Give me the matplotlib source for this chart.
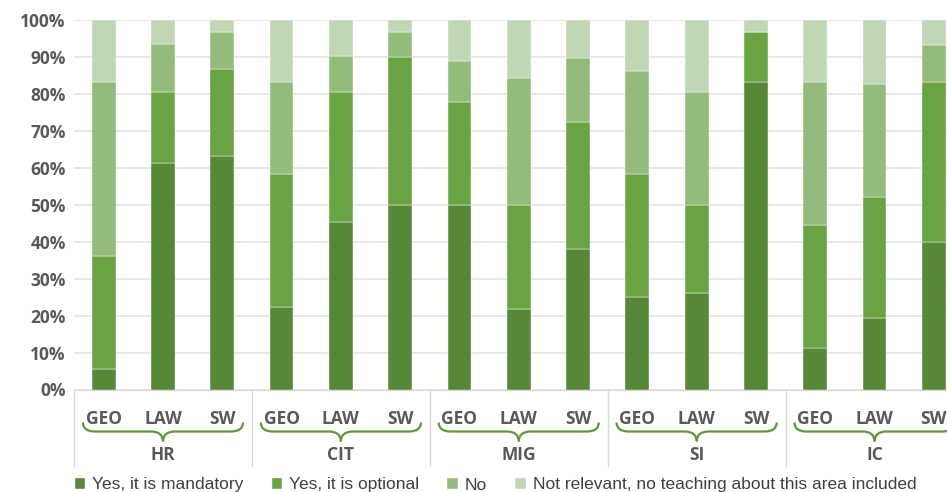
import numpy as np
import matplotlib
matplotlib.use('Agg')
import matplotlib.pyplot as plt
import matplotlib.transforms as mtransforms
from matplotlib.path import Path
from matplotlib.patches import PathPatch

# Datos
grupos = ['HR', 'CIT', 'MIG', 'SI', 'IC']
carreras = ['GEO', 'LAW', 'SW']
series = ['Yes, it is mandatory', 'Yes, it is optional', 'No',
          'Not relevant, no teaching about this area included']
obligatorio = [5.6, 61.3, 63.3, 22.2, 45.2, 50.0, 50.0, 21.9, 37.9, 25.0, 26.1, 83.3, 11.1, 19.4, 40.0]
opcional = [30.5, 19.3, 23.4, 36.1, 35.4, 40.0, 27.8, 28.1, 34.5, 33.3, 23.9, 13.4, 33.3, 32.8, 43.3]
no = [47.2, 12.9, 10.0, 25.0, 9.7, 6.7, 11.1, 34.4, 17.3, 27.8, 30.4, 0.0, 38.9, 30.5, 10.0]
no_relevante = [16.7, 6.5, 3.3, 16.7, 9.7, 3.3, 11.1, 15.6, 10.3, 13.9, 19.6, 3.3, 16.7, 17.3, 6.7]

colores = ['#578838', '#6aa343', '#94bb7b', '#c0d6b4']
gris = '#595959'
fuente = 'Open Sans'

fig = plt.figure(figsize=(9.47, 4.92), dpi=100)
W, H = 947, 492
ax = fig.add_axes([74 / W, (H - 389.5) / H, 889.5 / W, 369.5 / H])

x = np.arange(len(grupos) * len(carreras))
base = np.zeros(len(x))
for serie, vals, c in zip(series, [obligatorio, opcional, no, no_relevante], colores):
    ax.bar(x, vals, 0.40, bottom=base, color=c, label=serie, zorder=3,
           edgecolor='white', linewidth=0.3)
    base += np.array(vals)

ax.set_xlim(-0.5, len(x) - 0.5)
ax.set_ylim(0, 100)
ax.set_yticks(np.arange(0, 101, 10))
ax.set_yticklabels([f'{v}%' for v in range(0, 101, 10)], fontsize=12.5,
                   fontweight='bold', color=gris, family=fuente)
ax.tick_params(axis='y', length=0, pad=6)
ax.grid(axis='y', color='#e3e3e3', linewidth=1.2, zorder=0)
for s in ['top', 'right', 'left']:
    ax.spines[s].set_visible(False)
ax.spines['bottom'].set_color('#d9d9d9')

ax.set_xticks(x)
ax.set_xticklabels(carreras * len(grupos), fontsize=12.5, fontweight='bold',
                   color=gris, family=fuente)
ax.tick_params(axis='x', length=0, pad=15)

# Separadores, llaves y nombres de grupo
trans = mtransforms.blended_transform_factory(ax.transData, ax.transAxes)
alto = 369.5
for b in np.arange(-0.5, len(x), 3):
    ax.plot([b, b], [0, -76 / alto], color='#d9d9d9', lw=1, transform=trans, clip_on=False)

y_top, y_mid, y_tip = -33 / alto, -42 / alto, -52 / alto
r = 0.2
for i, g in enumerate(grupos):
    x0 = i * 3 - 0.5 + 0.15
    x1 = i * 3 + 2.5 - 0.15
    xm = i * 3 + 1
    for xe, s in ((x0, 1), (x1, -1)):
        p = Path([(xe, y_top), (xe, y_mid), (xe + s * r, y_mid), (xm - s * r, y_mid),
                  (xm, y_mid), (xm, y_tip)],
                 [Path.MOVETO, Path.CURVE3, Path.CURVE3, Path.LINETO,
                  Path.CURVE3, Path.CURVE3])
        ax.add_patch(PathPatch(p, fc='none', ec='#5f973b', lw=1.6,
                               transform=trans, clip_on=False))
    ax.text(xm, -65 / alto, g, transform=trans, ha='center', va='center',
            fontsize=12.5, fontweight='bold', color=gris, family=fuente)

leg = fig.legend(loc='center left', bbox_to_anchor=(66 / W, 1 - 485 / H), ncol=4,
                 frameon=False, handlelength=0.62, handleheight=0.62,
                 handletextpad=0.4, columnspacing=1.6, borderpad=0,
                 prop={'family': 'Liberation Sans', 'size': 12.5})
for t in leg.get_texts():
    t.set_color('#404040')

fig.savefig('out.png', dpi=100)
